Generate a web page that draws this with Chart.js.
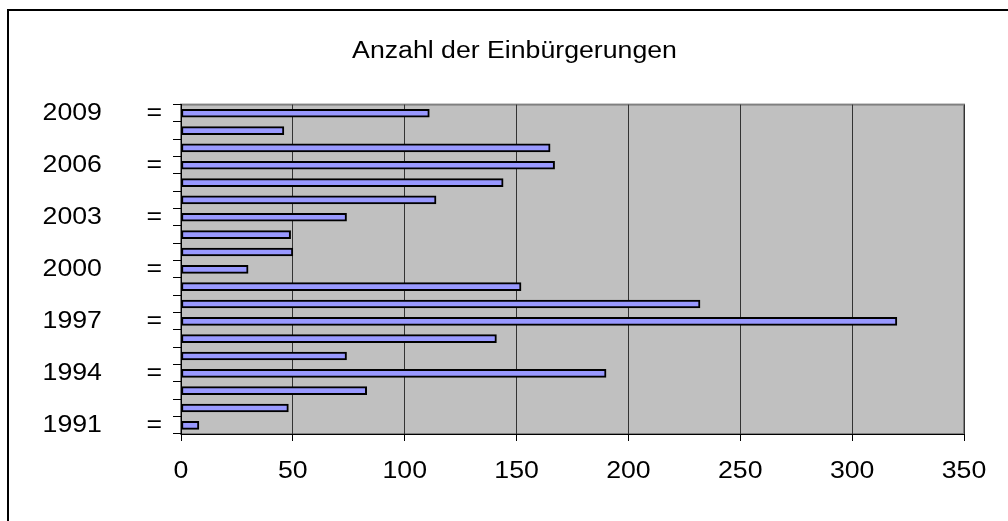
<!DOCTYPE html>
<html>
<head>
<meta charset="utf-8">
<script src="https://cdn.jsdelivr.net/npm/chart.js@4"></script>
<style>
  body { margin: 0; background: #fff; }
  canvas { display: block; }
</style>
</head>
<body>
<canvas id="chart" width="1008" height="521"></canvas>
<script>
// Einbürgerungen pro Jahr
const years = ["1991", "1992", "1993", "1994", "1995", "1996", "1997", "1998", "1999", "2000",
               "2001", "2002", "2003", "2004", "2005", "2006", "2007", "2008", "2009"];
const counts = [8, 48, 83, 190, 74, 141, 320, 232, 152, 30,
                50, 49, 74, 114, 144, 167, 165, 46, 111];
const xTicks = [0, 50, 100, 150, 200, 250, 300, 350];
const titleText = "Anzahl der Einbürgerungen";

Chart.defaults.font.family = "'Liberation Sans', Arial, sans-serif";
Chart.defaults.color = "#000";

// the original picture is stretched sideways, so widen every text a bit
const stretchText = {
    id: "stretchText",
    beforeDraw(chart) {
        const ctx = chart.ctx;
        if (ctx._stretched) return;
        const fill = ctx.fillText.bind(ctx);
        ctx.fillText = function (text, x, y) {
            ctx.save();
            ctx.translate(x, y);
            ctx.scale(1.16, 1);
            fill(text, 0, 0);
            ctx.restore();
        };
        ctx._stretched = true;
    },
};

// grey plot area + outer frame
const frame = {
    id: "frame",
    beforeDraw(chart) {
        const ctx = chart.ctx;
        const a = chart.chartArea;
        ctx.save();
        ctx.fillStyle = "#fff";
        ctx.fillRect(0, 0, chart.width, chart.height);
        ctx.strokeStyle = "#000";
        ctx.lineWidth = 2;
        ctx.strokeRect(8, 10, chart.width + 20, chart.height + 20);
        ctx.fillStyle = "#c0c0c0";
        ctx.fillRect(a.left, a.top, a.right - a.left, a.bottom - a.top);
        ctx.strokeStyle = "#808080";
        ctx.lineWidth = 2;
        ctx.strokeRect(a.left, a.top, a.right - a.left, a.bottom - a.top);
        ctx.restore();
    },
};

new Chart(document.getElementById("chart"), {
    type: "bar",
    data: {
        labels: years,
        datasets: [
            {
                data: counts,
                backgroundColor: "#9999ff",
                borderColor: "#000",
                borderWidth: 2,
                borderSkipped: false,
                barThickness: 8,
            },
        ],
    },
    options: {
        indexAxis: "y",
        responsive: false,
        devicePixelRatio: 1,
        animation: false,
        layout: { padding: { top: 10, left: 21, right: 0, bottom: 0 } },
        plugins: {
            legend: { display: false },
            tooltip: { enabled: false },
            title: {
                display: true,
                text: titleText,
                font: { size: 23, weight: "normal" },
                color: "#000",
                padding: { top: 28, bottom: 39 },
            },
        },
        scales: {
            x: {
                min: 0,
                max: 350,
                afterBuildTicks: (s) => { s.ticks = xTicks.map((v) => ({ value: v })); },
                afterFit: (s) => { s.height = 87; },
                grid: { color: "#333", lineWidth: 1, tickLength: 7, tickColor: "#000" },
                border: { color: "#000", width: 1 },
                ticks: { font: { size: 23 }, padding: 17, color: "#000" },
            },
            y: {
                reverse: true,
                afterFit: (s) => { s.width = 160; },
                grid: { drawOnChartArea: false, offset: true, tickLength: 8, tickColor: "#000" },
                border: { color: "#000", width: 1 },
                ticks: {
                    autoSkip: false,
                    font: { size: 23 },
                    padding: 11,
                    color: "#000",
                    callback: function (value) {
                        const year = this.getLabelForValue(value);
                        if ((Number(year) - 1991) % 3 !== 0) return "";
                        return year + "      =";
                    },
                },
            },
            pad: {
                type: "linear",
                position: "right",
                display: true,
                ticks: { display: false },
                grid: { display: false },
                border: { display: false },
                afterFit: (s) => { s.width = 44; },
            },
        },
    },
    plugins: [frame, stretchText],
});
</script>
</body>
</html>
